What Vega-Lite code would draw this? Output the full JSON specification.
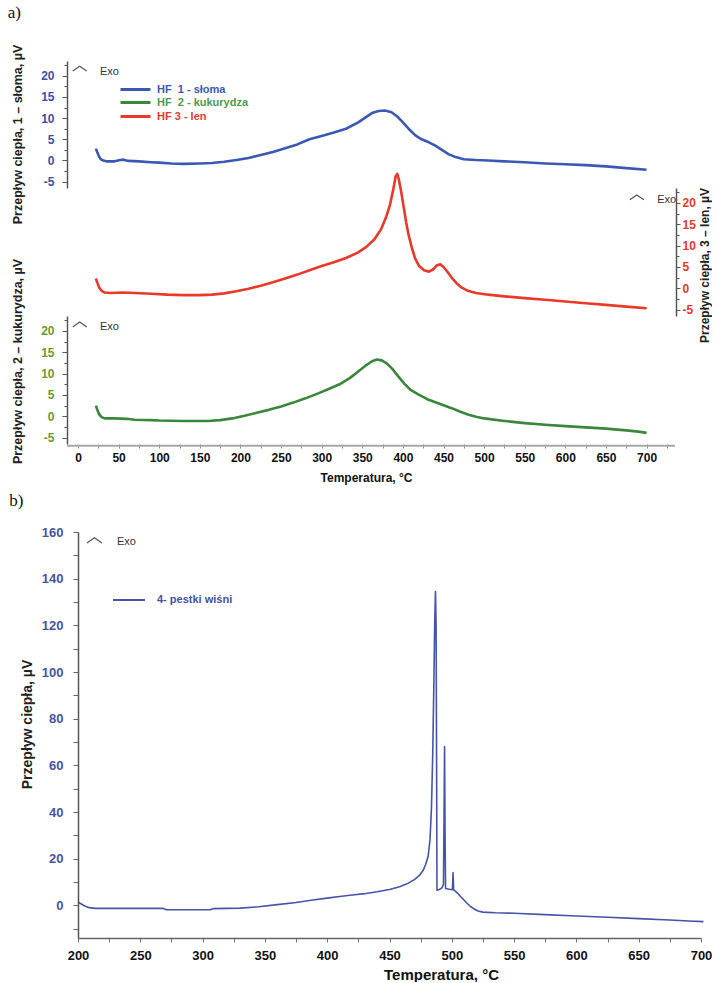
{
  "$schema": "https://vega.github.io/schema/vega-lite/v6.json",
  "background": "white",
  "padding": {"left": 7, "top": 4, "right": 0, "bottom": 0},
  "config": {
    "view": {"stroke": null},
    "font": "Liberation Sans",
    "axis": {"grid": false, "labelOverlap": false, "labelFlush": false, "labelFont": "Liberation Sans", "titleFont": "Liberation Sans"},
    "legend": {"labelFont": "Liberation Sans"}
  },
  "datasets": {
    "dsc": [
      {"t": 22, "hf": 2.8, "s": "HF\u00a0\u00a01 - słoma"}, {"t": 24, "hf": 1.8, "s": "HF\u00a0\u00a01 - słoma"}, {"t": 26, "hf": 0.9, "s": "HF\u00a0\u00a01 - słoma"},
      {"t": 28, "hf": 0.3, "s": "HF\u00a0\u00a01 - słoma"}, {"t": 31, "hf": 0.0, "s": "HF\u00a0\u00a01 - słoma"}, {"t": 35, "hf": -0.2, "s": "HF\u00a0\u00a01 - słoma"},
      {"t": 45, "hf": -0.2, "s": "HF\u00a0\u00a01 - słoma"}, {"t": 52, "hf": 0.1, "s": "HF\u00a0\u00a01 - słoma"}, {"t": 56, "hf": 0.2, "s": "HF\u00a0\u00a01 - słoma"},
      {"t": 62, "hf": -0.1, "s": "HF\u00a0\u00a01 - słoma"}, {"t": 75, "hf": -0.2, "s": "HF\u00a0\u00a01 - słoma"}, {"t": 90, "hf": -0.4, "s": "HF\u00a0\u00a01 - słoma"},
      {"t": 100, "hf": -0.5, "s": "HF\u00a0\u00a01 - słoma"}, {"t": 115, "hf": -0.7, "s": "HF\u00a0\u00a01 - słoma"}, {"t": 130, "hf": -0.8, "s": "HF\u00a0\u00a01 - słoma"},
      {"t": 150, "hf": -0.7, "s": "HF\u00a0\u00a01 - słoma"}, {"t": 165, "hf": -0.6, "s": "HF\u00a0\u00a01 - słoma"}, {"t": 180, "hf": -0.3, "s": "HF\u00a0\u00a01 - słoma"},
      {"t": 195, "hf": 0.1, "s": "HF\u00a0\u00a01 - słoma"}, {"t": 210, "hf": 0.6, "s": "HF\u00a0\u00a01 - słoma"}, {"t": 225, "hf": 1.3, "s": "HF\u00a0\u00a01 - słoma"},
      {"t": 240, "hf": 2.0, "s": "HF\u00a0\u00a01 - słoma"}, {"t": 255, "hf": 2.9, "s": "HF\u00a0\u00a01 - słoma"}, {"t": 270, "hf": 3.8, "s": "HF\u00a0\u00a01 - słoma"},
      {"t": 285, "hf": 5.0, "s": "HF\u00a0\u00a01 - słoma"}, {"t": 300, "hf": 5.8, "s": "HF\u00a0\u00a01 - słoma"}, {"t": 315, "hf": 6.6, "s": "HF\u00a0\u00a01 - słoma"},
      {"t": 330, "hf": 7.5, "s": "HF\u00a0\u00a01 - słoma"}, {"t": 345, "hf": 9.0, "s": "HF\u00a0\u00a01 - słoma"}, {"t": 355, "hf": 10.3, "s": "HF\u00a0\u00a01 - słoma"},
      {"t": 362, "hf": 11.2, "s": "HF\u00a0\u00a01 - słoma"}, {"t": 370, "hf": 11.7, "s": "HF\u00a0\u00a01 - słoma"}, {"t": 378, "hf": 11.8, "s": "HF\u00a0\u00a01 - słoma"},
      {"t": 386, "hf": 11.4, "s": "HF\u00a0\u00a01 - słoma"}, {"t": 393, "hf": 10.4, "s": "HF\u00a0\u00a01 - słoma"}, {"t": 400, "hf": 9.0, "s": "HF\u00a0\u00a01 - słoma"},
      {"t": 407, "hf": 7.5, "s": "HF\u00a0\u00a01 - słoma"}, {"t": 415, "hf": 6.0, "s": "HF\u00a0\u00a01 - słoma"}, {"t": 423, "hf": 5.0, "s": "HF\u00a0\u00a01 - słoma"},
      {"t": 432, "hf": 4.3, "s": "HF\u00a0\u00a01 - słoma"}, {"t": 440, "hf": 3.5, "s": "HF\u00a0\u00a01 - słoma"}, {"t": 448, "hf": 2.5, "s": "HF\u00a0\u00a01 - słoma"},
      {"t": 456, "hf": 1.5, "s": "HF\u00a0\u00a01 - słoma"}, {"t": 465, "hf": 0.8, "s": "HF\u00a0\u00a01 - słoma"}, {"t": 475, "hf": 0.3, "s": "HF\u00a0\u00a01 - słoma"},
      {"t": 490, "hf": 0.1, "s": "HF\u00a0\u00a01 - słoma"}, {"t": 505, "hf": 0.0, "s": "HF\u00a0\u00a01 - słoma"}, {"t": 525, "hf": -0.2, "s": "HF\u00a0\u00a01 - słoma"},
      {"t": 550, "hf": -0.4, "s": "HF\u00a0\u00a01 - słoma"}, {"t": 575, "hf": -0.7, "s": "HF\u00a0\u00a01 - słoma"}, {"t": 600, "hf": -0.9, "s": "HF\u00a0\u00a01 - słoma"},
      {"t": 625, "hf": -1.1, "s": "HF\u00a0\u00a01 - słoma"}, {"t": 650, "hf": -1.4, "s": "HF\u00a0\u00a01 - słoma"}, {"t": 675, "hf": -1.8, "s": "HF\u00a0\u00a01 - słoma"},
      {"t": 700, "hf": -2.2, "s": "HF\u00a0\u00a01 - słoma"},

      {"t": 22, "hf": 2.5, "s": "HF\u00a0\u00a02 - kukurydza"}, {"t": 24, "hf": 1.4, "s": "HF\u00a0\u00a02 - kukurydza"}, {"t": 26, "hf": 0.5, "s": "HF\u00a0\u00a02 - kukurydza"},
      {"t": 29, "hf": -0.2, "s": "HF\u00a0\u00a02 - kukurydza"}, {"t": 33, "hf": -0.5, "s": "HF\u00a0\u00a02 - kukurydza"}, {"t": 45, "hf": -0.5, "s": "HF\u00a0\u00a02 - kukurydza"},
      {"t": 60, "hf": -0.6, "s": "HF\u00a0\u00a02 - kukurydza"}, {"t": 70, "hf": -0.8, "s": "HF\u00a0\u00a02 - kukurydza"}, {"t": 90, "hf": -0.9, "s": "HF\u00a0\u00a02 - kukurydza"},
      {"t": 100, "hf": -1.0, "s": "HF\u00a0\u00a02 - kukurydza"}, {"t": 130, "hf": -1.1, "s": "HF\u00a0\u00a02 - kukurydza"}, {"t": 160, "hf": -1.1, "s": "HF\u00a0\u00a02 - kukurydza"},
      {"t": 175, "hf": -0.9, "s": "HF\u00a0\u00a02 - kukurydza"}, {"t": 190, "hf": -0.5, "s": "HF\u00a0\u00a02 - kukurydza"}, {"t": 205, "hf": 0.1, "s": "HF\u00a0\u00a02 - kukurydza"},
      {"t": 220, "hf": 0.8, "s": "HF\u00a0\u00a02 - kukurydza"}, {"t": 235, "hf": 1.5, "s": "HF\u00a0\u00a02 - kukurydza"}, {"t": 250, "hf": 2.3, "s": "HF\u00a0\u00a02 - kukurydza"},
      {"t": 265, "hf": 3.2, "s": "HF\u00a0\u00a02 - kukurydza"}, {"t": 280, "hf": 4.2, "s": "HF\u00a0\u00a02 - kukurydza"}, {"t": 295, "hf": 5.3, "s": "HF\u00a0\u00a02 - kukurydza"},
      {"t": 310, "hf": 6.5, "s": "HF\u00a0\u00a02 - kukurydza"}, {"t": 322, "hf": 7.5, "s": "HF\u00a0\u00a02 - kukurydza"}, {"t": 335, "hf": 9.0, "s": "HF\u00a0\u00a02 - kukurydza"},
      {"t": 345, "hf": 10.5, "s": "HF\u00a0\u00a02 - kukurydza"}, {"t": 355, "hf": 12.0, "s": "HF\u00a0\u00a02 - kukurydza"}, {"t": 362, "hf": 12.9, "s": "HF\u00a0\u00a02 - kukurydza"},
      {"t": 368, "hf": 13.3, "s": "HF\u00a0\u00a02 - kukurydza"}, {"t": 374, "hf": 13.1, "s": "HF\u00a0\u00a02 - kukurydza"}, {"t": 380, "hf": 12.4, "s": "HF\u00a0\u00a02 - kukurydza"},
      {"t": 387, "hf": 11.1, "s": "HF\u00a0\u00a02 - kukurydza"}, {"t": 394, "hf": 9.4, "s": "HF\u00a0\u00a02 - kukurydza"}, {"t": 402, "hf": 7.6, "s": "HF\u00a0\u00a02 - kukurydza"},
      {"t": 410, "hf": 6.1, "s": "HF\u00a0\u00a02 - kukurydza"}, {"t": 420, "hf": 5.0, "s": "HF\u00a0\u00a02 - kukurydza"}, {"t": 430, "hf": 4.0, "s": "HF\u00a0\u00a02 - kukurydza"},
      {"t": 440, "hf": 3.3, "s": "HF\u00a0\u00a02 - kukurydza"}, {"t": 450, "hf": 2.6, "s": "HF\u00a0\u00a02 - kukurydza"}, {"t": 460, "hf": 1.9, "s": "HF\u00a0\u00a02 - kukurydza"},
      {"t": 470, "hf": 1.1, "s": "HF\u00a0\u00a02 - kukurydza"}, {"t": 480, "hf": 0.4, "s": "HF\u00a0\u00a02 - kukurydza"}, {"t": 490, "hf": -0.1, "s": "HF\u00a0\u00a02 - kukurydza"},
      {"t": 500, "hf": -0.5, "s": "HF\u00a0\u00a02 - kukurydza"}, {"t": 525, "hf": -1.1, "s": "HF\u00a0\u00a02 - kukurydza"}, {"t": 550, "hf": -1.6, "s": "HF\u00a0\u00a02 - kukurydza"},
      {"t": 575, "hf": -2.0, "s": "HF\u00a0\u00a02 - kukurydza"}, {"t": 600, "hf": -2.3, "s": "HF\u00a0\u00a02 - kukurydza"}, {"t": 625, "hf": -2.6, "s": "HF\u00a0\u00a02 - kukurydza"},
      {"t": 650, "hf": -2.9, "s": "HF\u00a0\u00a02 - kukurydza"}, {"t": 675, "hf": -3.3, "s": "HF\u00a0\u00a02 - kukurydza"}, {"t": 690, "hf": -3.6, "s": "HF\u00a0\u00a02 - kukurydza"},
      {"t": 700, "hf": -3.9, "s": "HF\u00a0\u00a02 - kukurydza"},

      {"t": 22, "hf": 2.3, "s": "HF 3 - len"}, {"t": 24, "hf": 1.2, "s": "HF 3 - len"}, {"t": 26, "hf": 0.2, "s": "HF 3 - len"},
      {"t": 29, "hf": -0.6, "s": "HF 3 - len"}, {"t": 33, "hf": -1.0, "s": "HF 3 - len"}, {"t": 40, "hf": -1.1, "s": "HF 3 - len"},
      {"t": 55, "hf": -1.0, "s": "HF 3 - len"}, {"t": 70, "hf": -1.1, "s": "HF 3 - len"}, {"t": 90, "hf": -1.3, "s": "HF 3 - len"},
      {"t": 110, "hf": -1.5, "s": "HF 3 - len"}, {"t": 130, "hf": -1.6, "s": "HF 3 - len"}, {"t": 150, "hf": -1.6, "s": "HF 3 - len"},
      {"t": 165, "hf": -1.5, "s": "HF 3 - len"}, {"t": 180, "hf": -1.2, "s": "HF 3 - len"}, {"t": 195, "hf": -0.7, "s": "HF 3 - len"},
      {"t": 210, "hf": -0.1, "s": "HF 3 - len"}, {"t": 225, "hf": 0.6, "s": "HF 3 - len"}, {"t": 240, "hf": 1.4, "s": "HF 3 - len"},
      {"t": 255, "hf": 2.3, "s": "HF 3 - len"}, {"t": 270, "hf": 3.2, "s": "HF 3 - len"}, {"t": 285, "hf": 4.2, "s": "HF 3 - len"},
      {"t": 300, "hf": 5.2, "s": "HF 3 - len"}, {"t": 315, "hf": 6.1, "s": "HF 3 - len"}, {"t": 330, "hf": 7.1, "s": "HF 3 - len"},
      {"t": 345, "hf": 8.4, "s": "HF 3 - len"}, {"t": 355, "hf": 9.7, "s": "HF 3 - len"}, {"t": 365, "hf": 11.5, "s": "HF 3 - len"},
      {"t": 373, "hf": 13.8, "s": "HF 3 - len"}, {"t": 379, "hf": 16.5, "s": "HF 3 - len"}, {"t": 384, "hf": 19.5, "s": "HF 3 - len"},
      {"t": 388, "hf": 23.0, "s": "HF 3 - len"}, {"t": 391, "hf": 26.2, "s": "HF 3 - len"}, {"t": 393, "hf": 26.8, "s": "HF 3 - len"},
      {"t": 395, "hf": 25.5, "s": "HF 3 - len"}, {"t": 398, "hf": 22.5, "s": "HF 3 - len"}, {"t": 401, "hf": 19.0, "s": "HF 3 - len"},
      {"t": 404, "hf": 15.5, "s": "HF 3 - len"}, {"t": 407, "hf": 12.5, "s": "HF 3 - len"}, {"t": 411, "hf": 9.5, "s": "HF 3 - len"},
      {"t": 415, "hf": 7.0, "s": "HF 3 - len"}, {"t": 420, "hf": 5.2, "s": "HF 3 - len"}, {"t": 426, "hf": 4.2, "s": "HF 3 - len"},
      {"t": 432, "hf": 3.9, "s": "HF 3 - len"}, {"t": 437, "hf": 4.4, "s": "HF 3 - len"}, {"t": 442, "hf": 5.4, "s": "HF 3 - len"},
      {"t": 446, "hf": 5.6, "s": "HF 3 - len"}, {"t": 450, "hf": 5.0, "s": "HF 3 - len"}, {"t": 455, "hf": 3.8, "s": "HF 3 - len"},
      {"t": 460, "hf": 2.5, "s": "HF 3 - len"}, {"t": 466, "hf": 1.2, "s": "HF 3 - len"}, {"t": 472, "hf": 0.2, "s": "HF 3 - len"},
      {"t": 480, "hf": -0.6, "s": "HF 3 - len"}, {"t": 490, "hf": -1.1, "s": "HF 3 - len"}, {"t": 505, "hf": -1.5, "s": "HF 3 - len"},
      {"t": 525, "hf": -1.9, "s": "HF 3 - len"}, {"t": 550, "hf": -2.3, "s": "HF 3 - len"}, {"t": 575, "hf": -2.7, "s": "HF 3 - len"},
      {"t": 600, "hf": -3.1, "s": "HF 3 - len"}, {"t": 625, "hf": -3.5, "s": "HF 3 - len"}, {"t": 650, "hf": -3.9, "s": "HF 3 - len"},
      {"t": 675, "hf": -4.3, "s": "HF 3 - len"}, {"t": 700, "hf": -4.7, "s": "HF 3 - len"}
    ],
    "cherry": [
      {"t": 200, "hf": 1.5, "s": "4- pestki wiśni"}, {"t": 202, "hf": 0.8, "s": "4- pestki wiśni"}, {"t": 205, "hf": -0.2, "s": "4- pestki wiśni"},
      {"t": 209, "hf": -1.0, "s": "4- pestki wiśni"}, {"t": 214, "hf": -1.3, "s": "4- pestki wiśni"}, {"t": 240, "hf": -1.3, "s": "4- pestki wiśni"},
      {"t": 268, "hf": -1.3, "s": "4- pestki wiśni"}, {"t": 271, "hf": -1.9, "s": "4- pestki wiśni"}, {"t": 306, "hf": -1.9, "s": "4- pestki wiśni"},
      {"t": 309, "hf": -1.4, "s": "4- pestki wiśni"}, {"t": 330, "hf": -1.2, "s": "4- pestki wiśni"}, {"t": 345, "hf": -0.6, "s": "4- pestki wiśni"},
      {"t": 360, "hf": 0.3, "s": "4- pestki wiśni"}, {"t": 375, "hf": 1.2, "s": "4- pestki wiśni"}, {"t": 390, "hf": 2.4, "s": "4- pestki wiśni"},
      {"t": 400, "hf": 3.1, "s": "4- pestki wiśni"}, {"t": 410, "hf": 3.8, "s": "4- pestki wiśni"}, {"t": 420, "hf": 4.4, "s": "4- pestki wiśni"},
      {"t": 430, "hf": 5.0, "s": "4- pestki wiśni"}, {"t": 440, "hf": 5.8, "s": "4- pestki wiśni"}, {"t": 450, "hf": 6.8, "s": "4- pestki wiśni"},
      {"t": 458, "hf": 8.0, "s": "4- pestki wiśni"}, {"t": 465, "hf": 9.5, "s": "4- pestki wiśni"}, {"t": 470, "hf": 11.0, "s": "4- pestki wiśni"},
      {"t": 474, "hf": 12.8, "s": "4- pestki wiśni"}, {"t": 477, "hf": 15.0, "s": "4- pestki wiśni"}, {"t": 479, "hf": 17.5, "s": "4- pestki wiśni"},
      {"t": 481, "hf": 21.0, "s": "4- pestki wiśni"}, {"t": 482.5, "hf": 28.0, "s": "4- pestki wiśni"}, {"t": 483.7, "hf": 42.0, "s": "4- pestki wiśni"},
      {"t": 484.7, "hf": 65.0, "s": "4- pestki wiśni"}, {"t": 485.6, "hf": 95.0, "s": "4- pestki wiśni"}, {"t": 486.3, "hf": 122.0, "s": "4- pestki wiśni"},
      {"t": 486.9, "hf": 134.5, "s": "4- pestki wiśni"}, {"t": 487.4, "hf": 120.0, "s": "4- pestki wiśni"}, {"t": 487.8, "hf": 60.0, "s": "4- pestki wiśni"},
      {"t": 488.1, "hf": 6.5, "s": "4- pestki wiśni"}, {"t": 490, "hf": 6.8, "s": "4- pestki wiśni"}, {"t": 492, "hf": 7.5, "s": "4- pestki wiśni"},
      {"t": 493.3, "hf": 9.0, "s": "4- pestki wiśni"}, {"t": 493.8, "hf": 40.0, "s": "4- pestki wiśni"}, {"t": 494.2, "hf": 68.0, "s": "4- pestki wiśni"},
      {"t": 494.6, "hf": 30.0, "s": "4- pestki wiśni"}, {"t": 495, "hf": 7.2, "s": "4- pestki wiśni"}, {"t": 498, "hf": 6.9, "s": "4- pestki wiśni"},
      {"t": 500.5, "hf": 6.7, "s": "4- pestki wiśni"}, {"t": 501, "hf": 14.0, "s": "4- pestki wiśni"}, {"t": 501.5, "hf": 6.6, "s": "4- pestki wiśni"},
      {"t": 503, "hf": 6.0, "s": "4- pestki wiśni"}, {"t": 505, "hf": 5.0, "s": "4- pestki wiśni"}, {"t": 507, "hf": 3.8, "s": "4- pestki wiśni"},
      {"t": 509, "hf": 2.7, "s": "4- pestki wiśni"}, {"t": 512, "hf": 1.0, "s": "4- pestki wiśni"}, {"t": 515, "hf": -0.5, "s": "4- pestki wiśni"},
      {"t": 518, "hf": -1.6, "s": "4- pestki wiśni"}, {"t": 521, "hf": -2.4, "s": "4- pestki wiśni"}, {"t": 525, "hf": -2.9, "s": "4- pestki wiśni"},
      {"t": 535, "hf": -3.2, "s": "4- pestki wiśni"}, {"t": 550, "hf": -3.4, "s": "4- pestki wiśni"}, {"t": 575, "hf": -4.0, "s": "4- pestki wiśni"},
      {"t": 600, "hf": -4.6, "s": "4- pestki wiśni"}, {"t": 625, "hf": -5.1, "s": "4- pestki wiśni"}, {"t": 650, "hf": -5.7, "s": "4- pestki wiśni"},
      {"t": 675, "hf": -6.3, "s": "4- pestki wiśni"}, {"t": 690, "hf": -6.7, "s": "4- pestki wiśni"}, {"t": 702, "hf": -7.0, "s": "4- pestki wiśni"}
    ]
  },
  "concat": [
    {
      "title": {"text": "a)", "anchor": "start", "frame": "bounds", "font": "Liberation Serif", "fontSize": 17, "fontWeight": "normal", "color": "#111", "offset": 22, "dx": -4},
      "vconcat": [
        {
          "width": 597, "height": 127,
          "resolve": {"axis": {"x": "independent", "y": "independent"}},
          "layer": [
            {
              "data": {"name": "dsc"},
              "transform": [{"filter": {"field": "s", "equal": "HF\u00a0\u00a01 - słoma"}}],
              "mark": {"type": "line", "strokeWidth": 2.6, "strokeJoin": "round"},
              "encoding": {
                "x": {"field": "t", "type": "quantitative", "scale": {"domain": [0, 735], "nice": false, "zero": false}, "axis": null},
                "y": {"field": "hf", "type": "quantitative", "scale": {"domain": [-6.5, 23.5], "nice": false, "zero": false},
                  "axis": {"orient": "left", "offset": 11, "values": [-5, -2.5, 0, 2.5, 5, 7.5, 10, 12.5, 15, 17.5, 20, 22.5],
                    "labelExpr": "datum.value % 5 == 0 ? replace(datum.label, '−', '-') : ''",
                    "tickSize": {"condition": {"test": "datum.value % 5 != 0", "value": 3}, "value": 5},
                    "labelColor": "#3d4fa6", "labelFontSize": 12, "labelFontWeight": "bold", "labelPadding": 8,
                    "domainColor": "#555", "domainWidth": 1.5, "tickColor": "#555",
                    "title": "Przepływ ciepła, 1 – słoma, µV", "titleFontSize": 12.5, "titleFontWeight": "bold", "titleColor": "#222",
                    "titlePadding": 16, "titleY": 73}},
                "color": {"field": "s", "type": "nominal", "scale": {"domain": ["HF\u00a0\u00a01 - słoma"], "range": ["#3b58b3"]},
                  "legend": {"orient": "none", "legendX": 41, "legendY": 12, "title": null, "symbolType": "stroke", "symbolSize": 900,
                    "symbolStrokeWidth": 3, "labelFontSize": 11, "labelFontWeight": "bold", "labelColor": "#3b58b3", "labelOffset": 5, "padding": 0}}
              }
            },
            {
              "data": {"values": [{}]},
              "mark": {"type": "point", "shape": "M-1,0.35L0,-0.35L1,0.35", "filled": false, "color": "#555", "strokeWidth": 1.2, "size": 196, "opacity": 1},
              "encoding": {"x": {"datum": 2.1, "axis": null}, "y": {"datum": 21.7, "axis": null}}
            },
            {
              "data": {"values": [{}]},
              "mark": {"type": "text", "text": "Exo", "align": "left", "baseline": "middle", "fontSize": 11, "color": "#333"},
              "encoding": {"x": {"datum": 27, "axis": null}, "y": {"datum": 20.9, "axis": null}}
            }
          ]
        },
        {
          "width": 597, "height": 128,
          "resolve": {"axis": {"x": "independent", "y": "independent"}},
          "layer": [
            {
              "data": {"name": "dsc"},
              "transform": [{"filter": {"field": "s", "equal": "HF 3 - len"}}],
              "mark": {"type": "line", "strokeWidth": 2.6, "strokeJoin": "round"},
              "encoding": {
                "x": {"field": "t", "type": "quantitative", "scale": {"domain": [0, 735], "nice": false, "zero": false}, "axis": null},
                "y": {"field": "hf", "type": "quantitative", "scale": {"domain": [-6.5, 23.5], "nice": false, "zero": false},
                  "axis": {"orient": "right", "offset": 1, "values": [-5, -2.5, 0, 2.5, 5, 7.5, 10, 12.5, 15, 17.5, 20, 22.5],
                    "labelExpr": "datum.value % 5 == 0 ? replace(datum.label, '−', '-') : ''",
                    "tickSize": {"condition": {"test": "datum.value % 5 != 0", "value": 3}, "value": 4},
                    "labelColor": "#e53a2e", "labelFontSize": 12, "labelFontWeight": "bold", "labelPadding": 2,
                    "domainColor": "#555", "domainWidth": 1.5, "tickColor": "#555",
                    "title": "Przepływ ciepła, 3 – len, µV", "titleFontSize": 12, "titleFontWeight": "bold", "titleColor": "#222",
                    "titleAngle": 270, "titleBaseline": "top", "titlePadding": 4, "titleY": 77}},
                "color": {"field": "s", "type": "nominal", "scale": {"domain": ["HF 3 - len"], "range": ["#e8392b"]},
                  "legend": {"orient": "none", "legendX": 41, "legendY": -88, "title": null, "symbolType": "stroke", "symbolSize": 900,
                    "symbolStrokeWidth": 3, "labelFontSize": 11, "labelFontWeight": "bold", "labelColor": "#e8392b", "labelOffset": 5, "padding": 0}}
              }
            },
            {
              "data": {"values": [{}]},
              "mark": {"type": "point", "shape": "M-1,0.35L0,-0.35L1,0.35", "filled": false, "color": "#555", "strokeWidth": 1.2, "size": 196, "opacity": 1},
              "encoding": {"x": {"datum": 688, "axis": null}, "y": {"datum": 21.3, "axis": null}}
            },
            {
              "data": {"values": [{}]},
              "mark": {"type": "text", "text": "Exo", "align": "left", "baseline": "middle", "fontSize": 11, "color": "#333"},
              "encoding": {"x": {"datum": 713, "axis": null}, "y": {"datum": 20.8, "axis": null}}
            }
          ]
        },
        {
          "width": 597, "height": 128,
          "resolve": {"axis": {"x": "independent", "y": "independent"}},
          "layer": [
            {
              "data": {"values": [{}]},
              "mark": {"type": "rule", "color": "#a8a8a8", "strokeWidth": 2},
              "encoding": {"x": {"datum": -13.5, "axis": null}, "x2": {"datum": 735}, "y": {"datum": -6.9, "axis": null}}
            },
            {
              "data": {"name": "dsc"},
              "transform": [{"filter": {"field": "s", "equal": "HF\u00a0\u00a02 - kukurydza"}}],
              "mark": {"type": "line", "strokeWidth": 2.6, "strokeJoin": "round"},
              "encoding": {
                "x": {"field": "t", "type": "quantitative", "scale": {"domain": [0, 735], "nice": false, "zero": false},
                  "axis": {"orient": "bottom", "domain": false, "values": [0, 25, 50, 75, 100, 125, 150, 175, 200, 225, 250, 275, 300, 325, 350, 375, 400, 425, 450, 475, 500, 525, 550, 575, 600, 625, 650, 675, 700, 725],
                    "labelExpr": "datum.value % 50 == 0 ? datum.label : ''", "tickSize": 4, "tickColor": "#888",
                    "labelColor": "#111", "labelFontSize": 12, "labelFontWeight": "bold", "labelPadding": 4,
                    "title": "Temperatura, °C", "titleFontSize": 12, "titleFontWeight": "bold", "titleColor": "#111", "titlePadding": 9, "titleX": 288}},
                "y": {"field": "hf", "type": "quantitative", "scale": {"domain": [-6.5, 23.5], "nice": false, "zero": false},
                  "axis": {"orient": "left", "offset": 11, "values": [-5, -2.5, 0, 2.5, 5, 7.5, 10, 12.5, 15, 17.5, 20, 22.5],
                    "labelExpr": "datum.value % 5 == 0 ? replace(datum.label, '−', '-') : ''",
                    "tickSize": {"condition": {"test": "datum.value % 5 != 0", "value": 3}, "value": 5},
                    "labelColor": "#6a9a2c", "labelFontSize": 12, "labelFontWeight": "bold", "labelPadding": 8,
                    "domainColor": "#555", "domainWidth": 1.5, "tickColor": "#555",
                    "title": "Przepływ ciepła, 2 – kukurydza, µV", "titleFontSize": 12.5, "titleFontWeight": "bold", "titleColor": "#222",
                    "titlePadding": 16, "titleY": 45}},
                "color": {"field": "s", "type": "nominal", "scale": {"domain": ["HF\u00a0\u00a02 - kukurydza"], "range": ["#3a863a"]},
                  "legend": {"orient": "none", "legendX": 41, "legendY": -230, "title": null, "symbolType": "stroke", "symbolSize": 900,
                    "symbolStrokeWidth": 3, "labelFontSize": 11, "labelFontWeight": "bold", "labelColor": "#4c9a4c", "labelOffset": 5, "padding": 0}}
              }
            },
            {
              "data": {"values": [{}]},
              "mark": {"type": "point", "shape": "M-1,0.35L0,-0.35L1,0.35", "filled": false, "color": "#555", "strokeWidth": 1.2, "size": 196, "opacity": 1},
              "encoding": {"x": {"datum": 2.1, "axis": null}, "y": {"datum": 21.5, "axis": null}}
            },
            {
              "data": {"values": [{}]},
              "mark": {"type": "text", "text": "Exo", "align": "left", "baseline": "middle", "fontSize": 11, "color": "#333"},
              "encoding": {"x": {"datum": 27, "axis": null}, "y": {"datum": 20.9, "axis": null}}
            }
          ]
        }
      ],
      "spacing": 0,
      "bounds": "flush",
      "resolve": {"scale": {"x": "independent", "y": "independent", "color": "independent"}, "axis": {"x": "independent", "y": "independent"}, "legend": {"color": "independent"}}
    },
    {
      "title": {"text": "b)", "anchor": "start", "frame": "bounds", "font": "Liberation Serif", "fontSize": 17, "fontWeight": "normal", "color": "#111", "offset": 16, "dx": -11},
      "width": 623, "height": 406,
      "resolve": {"axis": {"x": "independent", "y": "independent"}},
      "layer": [
        {
          "data": {"name": "cherry"},
          "mark": {"type": "line", "strokeWidth": 1.6, "strokeJoin": "round"},
          "encoding": {
            "x": {"field": "t", "type": "quantitative", "scale": {"domain": [200, 700], "nice": false, "zero": false},
              "axis": {"orient": "bottom", "values": [200, 225, 250, 275, 300, 325, 350, 375, 400, 425, 450, 475, 500, 525, 550, 575, 600, 625, 650, 675, 700],
                "labelExpr": "datum.value % 50 == 0 ? datum.label : ''", "tickSize": 4, "tickColor": "#777",
                "domainColor": "#666", "domainWidth": 1.5,
                "labelColor": "#111", "labelFontSize": 13, "labelFontWeight": "bold", "labelPadding": 7,
                "title": "Temperatura, °C", "titleFontSize": 15, "titleFontWeight": "bold", "titleColor": "#111", "titlePadding": 5, "titleX": 363}},
            "y": {"field": "hf", "type": "quantitative", "scale": {"domain": [-14, 160], "nice": false, "zero": false},
              "axis": {"orient": "left", "values": [-10, 0, 10, 20, 30, 40, 50, 60, 70, 80, 90, 100, 110, 120, 130, 140, 150, 160],
                "labelExpr": "datum.value % 20 == 0 ? datum.label : ''", "tickSize": 5, "tickColor": "#666",
                "domainColor": "#555", "domainWidth": 1.5,
                "labelColor": "#4a52a6", "labelFontSize": 13, "labelFontWeight": "bold", "labelPadding": 10,
                "title": "Przepływ  ciepła, µV", "titleFontSize": 14, "titleFontWeight": "bold", "titleColor": "#222", "titlePadding": 7, "titleY": 192}},
            "color": {"field": "s", "type": "nominal", "scale": {"domain": ["4- pestki wiśni"], "range": ["#4654a8"]},
              "legend": {"orient": "none", "legendX": 34, "legendY": 51, "title": null, "symbolType": "stroke", "symbolSize": 1024,
                "symbolStrokeWidth": 2, "labelFontSize": 11, "labelFontWeight": "bold", "labelColor": "#4650a8", "labelOffset": 11, "padding": 0}}
          }
        },
        {
          "data": {"values": [{}]},
          "mark": {"type": "point", "shape": "M-1,0.35L0,-0.35L1,0.35", "filled": false, "color": "#555", "strokeWidth": 1.2, "size": 225, "opacity": 1},
          "encoding": {"x": {"datum": 213.2, "axis": null}, "y": {"datum": 156.4, "axis": null}}
        },
        {
          "data": {"values": [{}]},
          "mark": {"type": "text", "text": "Exo", "align": "left", "baseline": "middle", "fontSize": 11, "color": "#333"},
          "encoding": {"x": {"datum": 231.3, "axis": null}, "y": {"datum": 155.9, "axis": null}}
        }
      ]
    }
  ],
  "columns": 1,
  "spacing": 9,
  "resolve": {"scale": {"x": "independent", "y": "independent", "color": "independent"}, "axis": {"x": "independent", "y": "independent"}, "legend": {"color": "independent"}}
}
